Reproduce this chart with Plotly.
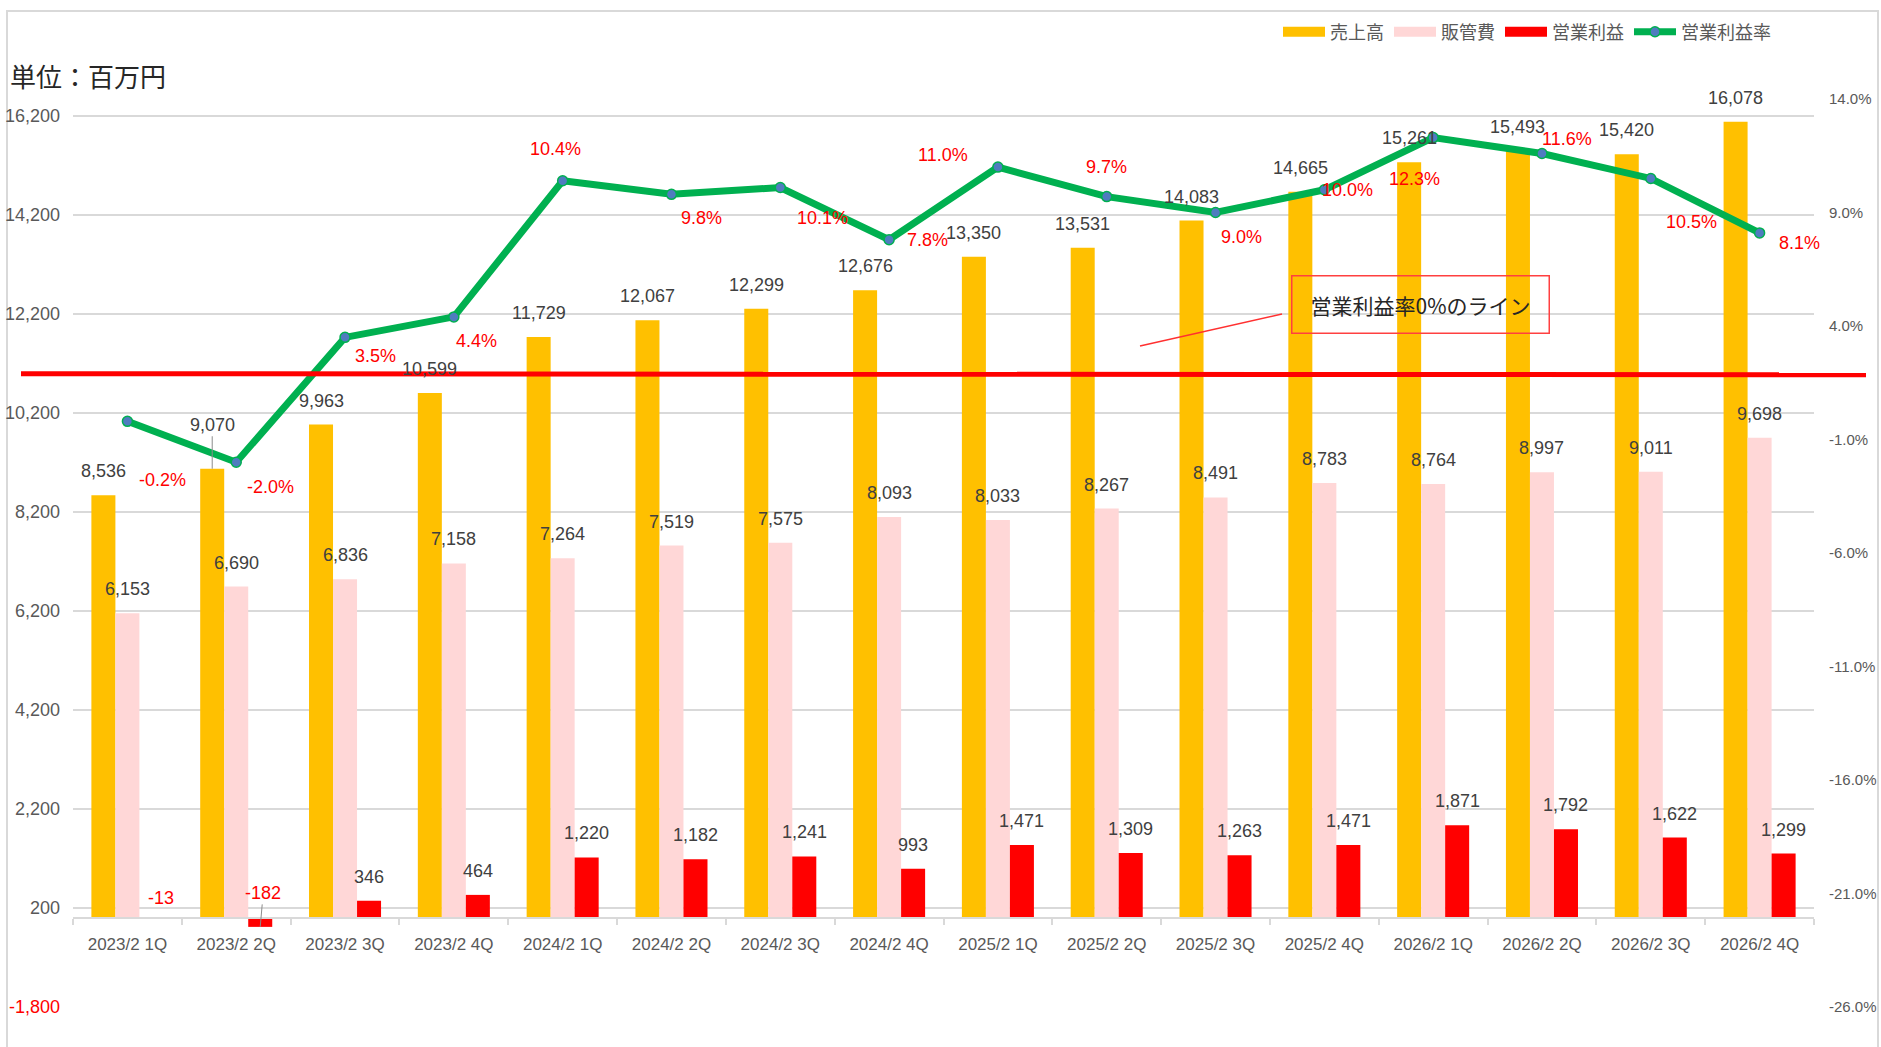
import plotly.graph_objects as go

# ---------------- data ----------------
categories = ["2023/2 1Q", "2023/2 2Q", "2023/2 3Q", "2023/2 4Q",
              "2024/2 1Q", "2024/2 2Q", "2024/2 3Q", "2024/2 4Q",
              "2025/2 1Q", "2025/2 2Q", "2025/2 3Q", "2025/2 4Q",
              "2026/2 1Q", "2026/2 2Q", "2026/2 3Q", "2026/2 4Q"]
sales = [8536, 9070, 9963, 10599, 11729, 12067, 12299, 12676,
         13350, 13531, 14083, 14665, 15261, 15493, 15420, 16078]
sga = [6153, 6690, 6836, 7158, 7264, 7519, 7575, 8093,
       8033, 8267, 8491, 8783, 8764, 8997, 9011, 9698]
op_profit = [-13, -182, 346, 464, 1220, 1182, 1241, 993,
             1471, 1309, 1263, 1471, 1871, 1792, 1622, 1299]
op_margin = [-0.2, -2.0, 3.5, 4.4, 10.4, 9.8, 10.1, 7.8,
             11.0, 9.7, 9.0, 10.0, 12.3, 11.6, 10.5, 8.1]
left_ticks = list(range(-1800, 16201, 2000))
right_ticks = list(range(-26, 15, 5))
series_names = ["売上高", "販管費", "営業利益", "営業利益率"]
unit_label = "単位：百万円"
note_label = "営業利益率0%のライン"

# ---------------- style / layout ----------------
W, H = 1881, 1047
ML, MR, MT, MB = 73, 67, 99, 40
Y_RANGE = [-1800, 16537]
Y2_RANGE = [-26, 14]
BARGAP = 0.338
C_SALES, C_SGA, C_PROFIT = "#FFC000", "#FFD7D7", "#FF0000"
C_LINE, C_MARK = "#00B050", "#4F7CBF"
GRID = "#D9D9D9"
TICK = "#595959"
LABEL = "#404040"
NUM_FONT = "Liberation Sans Narrow, Arial Narrow, Liberation Sans, Arial"
JP_FONT = "Noto Sans CJK JP"

pw = W - ML - MR
ph = H - MT - MB
cat_px = pw / len(categories)
bar_px = cat_px * (1 - BARGAP) / 3
offsets = [-bar_px, 0, bar_px]

# label nudges (pixels: dx right, dy down) for the margin labels
margin_label_offsets = [(35, 59), (34, 25), (30, 19), (23, 24), (-7, -32), (30, 24),
                        (42, 30), (38, 0), (-55, -12), (0, -30), (26, 24), (23, 0),
                        (-19, 41), (25, -14), (41, 44), (40, 10)]
# leader-line labels: (series index, point index) -> (ax, ay)
leaders = {(0, 1): (0, -44), (2, 1): (3, -34)}

fig = go.Figure()
bar_colors = [C_SALES, C_SGA, C_PROFIT]
for name, vals, col in zip(series_names[:3], [sales, sga, op_profit], bar_colors):
    fig.add_trace(go.Bar(x=categories, y=vals, name=name, marker=dict(color=col, line=dict(width=0)),
                         yaxis="y", hoverinfo="x+y", showlegend=False, legendgroup=name))

fig.add_trace(go.Scatter(x=categories, y=op_margin, name=series_names[3], yaxis="y2",
                         mode="lines+markers", showlegend=False, legendgroup=series_names[3],
                         line=dict(color=C_LINE, width=7),
                         marker=dict(size=10, color=C_MARK, line=dict(color=C_LINE, width=1.5))))

# legend entries drawn as wide swatches (Excel-style)
for name, col in zip(series_names[:3], bar_colors):
    fig.add_trace(go.Scatter(x=[None], y=[None], name=name, mode="lines", legendgroup=name,
                             line=dict(color=col, width=10), hoverinfo="skip"))
fig.add_trace(go.Scatter(x=[None], y=[None], name=series_names[3], mode="lines+markers",
                         legendgroup=series_names[3], yaxis="y2", hoverinfo="skip",
                         line=dict(color=C_LINE, width=7),
                         marker=dict(size=10, color=C_MARK, line=dict(color=C_LINE, width=1.5))))

annotations = []
# bar value labels
for si, vals in enumerate([sales, sga, op_profit]):
    for i, v in enumerate(vals):
        neg = v < 0
        color = C_PROFIT if neg else LABEL
        txt = f"{v:,}"
        if (si, i) in leaders:
            ax, ay = leaders[(si, i)]
            annotations.append(dict(x=categories[i], y=v, xref="x", yref="y", text=txt,
                                    xshift=offsets[si], showarrow=True, arrowhead=0,
                                    arrowwidth=1, arrowcolor="#8C8C8C", ax=ax, ay=ay,
                                    standoff=0,
                                    font=dict(family=NUM_FONT, size=18, color=color)))
        else:
            annotations.append(dict(x=categories[i], y=max(v, 0), xref="x", yref="y", text=txt,
                                    xshift=offsets[si] + (10 if neg else 0),
                                    yshift=8 if neg else 12,
                                    yanchor="bottom", xanchor="center", showarrow=False,
                                    font=dict(family=NUM_FONT, size=18, color=color)))
# margin labels
for i, v in enumerate(op_margin):
    dx, dy = margin_label_offsets[i]
    annotations.append(dict(x=categories[i], y=v, xref="x", yref="y2", text=f"{v:.1f}%",
                            xshift=dx, yshift=-dy, showarrow=False,
                            xanchor="center", yanchor="middle",
                            font=dict(family=NUM_FONT, size=18, color=C_PROFIT)))
# unit title
annotations.append(dict(x=(8 - ML) / pw, y=(H - MB - 75) / ph, xref="paper", yref="paper",
                        text=unit_label, showarrow=False, xanchor="left", yanchor="middle",
                        font=dict(family=JP_FONT, size=26, color="#262626")))
# callout box
annotations.append(dict(x=(1420 - ML) / pw, y=(H - MB - 304) / ph, xref="paper", yref="paper",
                        text=note_label, showarrow=False, xanchor="center", yanchor="middle",
                        width=240, height=40, borderpad=8, bordercolor="#FF4040", borderwidth=1.5,
                        font=dict(family=JP_FONT, size=21, color="#262626")))

shapes = [
    # hand-drawn "0%" line
    dict(type="line", xref="paper", yref="y2", x0=(21 - ML) / pw, x1=(1866 - ML) / pw,
         y0=1.9, y1=1.85, line=dict(color="#FF0000", width=5), layer="above"),
    # callout leader
    dict(type="line", xref="paper", yref="paper",
         x0=(1282 - ML) / pw, y0=(H - MB - 314) / ph, x1=(1140 - ML) / pw, y1=(H - MB - 346) / ph,
         line=dict(color="#FF3030", width=1.5), layer="above"),
    # chart border
    dict(type="rect", xref="paper", yref="paper",
         x0=(7 - ML) / pw, x1=(1878 - ML) / pw, y0=-0.08, y1=(H - MB - 11) / ph,
         line=dict(color=GRID, width=2), layer="below"),
]

left_text = [(f'<span style="color:#FF0000">{t:,}</span>' if t < 0 else f"{t:,}") for t in left_ticks]
right_text = [f"{t:.1f}%" for t in right_ticks]
x_pos = (0 - Y_RANGE[0]) / (Y_RANGE[1] - Y_RANGE[0])

fig.update_layout(
    template="none",
    width=W, height=H,
    margin=dict(l=ML, r=MR, t=MT, b=MB, autoexpand=False),
    paper_bgcolor="white", plot_bgcolor="white",
    barmode="group", bargap=BARGAP, bargroupgap=0,
    font=dict(family=JP_FONT, color=TICK),
    showlegend=True,
    legend=dict(orientation="h", x=(1776 - ML) / pw, xanchor="right",
                y=(H - MB - 32) / ph, yanchor="middle",
                font=dict(family=JP_FONT, size=18, color=TICK),
                itemwidth=42, bgcolor="rgba(0,0,0,0)", traceorder="normal"),
    xaxis=dict(type="category", anchor="free", position=x_pos,
               range=[-0.5, len(categories) - 0.5], autorange=False, automargin=False,
               showline=True, linecolor=GRID, linewidth=1.5,
               ticks="outside", tickson="boundaries", ticklen=6, tickcolor=GRID, tickwidth=1.5,
               showgrid=False, zeroline=False, ticklabelstandoff=11,
               tickfont=dict(family="Liberation Sans, Arial", size=17, color=TICK)),
    yaxis=dict(range=Y_RANGE, autorange=False, automargin=False,
               tickvals=left_ticks, ticktext=left_text,
               showgrid=True, gridcolor=GRID, gridwidth=1.5, zeroline=False,
               showline=False, ticks="", ticklabelstandoff=12,
               tickfont=dict(family=NUM_FONT, size=18, color=TICK)),
    yaxis2=dict(range=Y2_RANGE, autorange=False, automargin=False,
                tickvals=right_ticks, ticktext=right_text,
                overlaying="y", side="right", anchor="x",
                showgrid=False, zeroline=False, showline=False, ticks="",
                ticklabelstandoff=14,
                tickfont=dict(family="Liberation Sans, Arial", size=15, color=TICK)),
    annotations=annotations,
    shapes=shapes,
)

fig.write_html("out.html", config={"displayModeBar": False},
               post_script="document.body.style.margin='0';document.body.style.overflow='hidden';")
